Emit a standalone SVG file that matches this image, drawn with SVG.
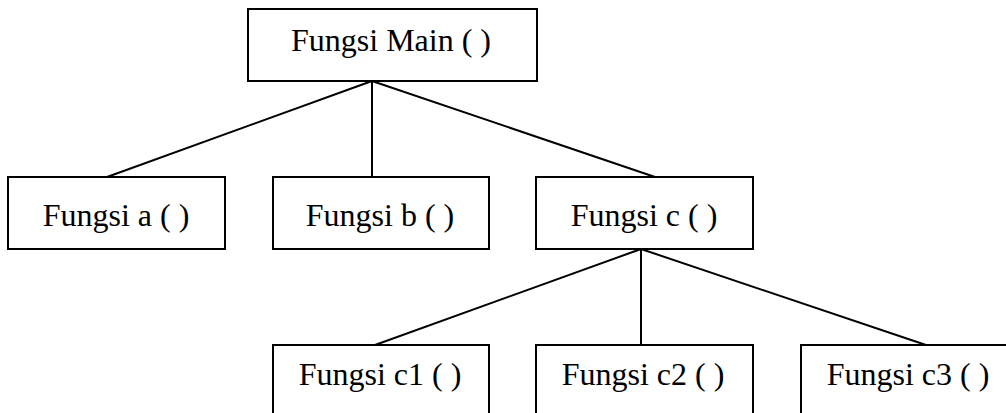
<svg xmlns="http://www.w3.org/2000/svg" width="1006" height="413" viewBox="0 0 1006 413">
<style>
.box{fill:#fff;stroke:#000;stroke-width:2}
.lbl{font-family:"Liberation Serif","Times New Roman",serif;font-size:32px;fill:#000;text-anchor:middle}
.conn line{stroke:#000;stroke-width:2}
</style>
<rect width="1006" height="413" fill="#fff"/>
<g id="connectors" class="conn">
<line x1="372" y1="81" x2="107" y2="177"/>
<line x1="372" y1="81" x2="372" y2="177"/>
<line x1="372" y1="81" x2="655" y2="177"/>
<line x1="641" y1="249" x2="375" y2="345"/>
<line x1="641" y1="249" x2="641" y2="345"/>
<line x1="641" y1="249" x2="926" y2="345"/>
</g>
<g id="main"><rect class="box" x="248" y="9" width="289" height="72"/><text class="lbl" x="391" y="51">Fungsi Main ( )</text></g>
<g id="fa"><rect class="box" x="8" y="177" width="217" height="72"/><text class="lbl" x="116" y="226">Fungsi a ( )</text></g>
<g id="fb"><rect class="box" x="273" y="177" width="216" height="72"/><text class="lbl" x="380" y="226">Fungsi b ( )</text></g>
<g id="fc"><rect class="box" x="536" y="177" width="217" height="72"/><text class="lbl" x="644" y="226">Fungsi c ( )</text></g>
<g id="fc1"><rect class="box" x="273" y="345" width="216" height="80"/><text class="lbl" x="380" y="385">Fungsi c1 ( )</text></g>
<g id="fc2"><rect class="box" x="536" y="345" width="217" height="80"/><text class="lbl" x="643" y="385">Fungsi c2 ( )</text></g>
<g id="fc3"><rect class="box" x="801" y="345" width="217" height="80"/><text class="lbl" x="908" y="385">Fungsi c3 ( )</text></g>
</svg>
